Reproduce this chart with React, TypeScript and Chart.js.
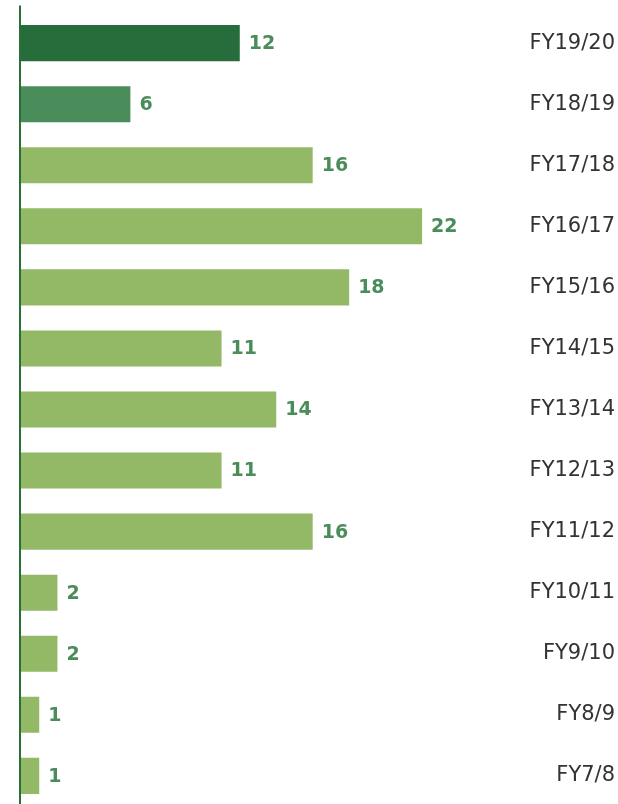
import React, { useEffect, useRef } from "react";
import { Chart, registerables } from "chart.js";

Chart.register(...registerables);

const categories = ["FY19/20", "FY18/19", "FY17/18", "FY16/17", "FY15/16", "FY14/15", "FY13/14", "FY12/13", "FY11/12", "FY10/11", "FY9/10", "FY8/9", "FY7/8"];
const values = [12, 6, 16, 22, 18, 11, 14, 11, 16, 2, 2, 1, 1];
const barColors = ["#276D3B", "#4A8C5A", "#93B866", "#93B866", "#93B866", "#93B866", "#93B866", "#93B866", "#93B866", "#93B866", "#93B866", "#93B866", "#93B866"];

const FONT = "'DejaVu Sans', sans-serif";

const valueLabels = {
  id: "valueLabels",
  afterDatasetsDraw(chart: any) {
    const ctx = chart.ctx;
    const meta = chart.getDatasetMeta(0);
    ctx.save();
    ctx.font = `bold 19px ${FONT}`;
    ctx.fillStyle = "#4A8C5A";
    ctx.textAlign = "left";
    ctx.textBaseline = "middle";
    meta.data.forEach((bar: any, i: number) => {
      ctx.fillText(String(values[i]), bar.x + 9, bar.y + 1);
    });
    ctx.restore();
  },
};

const axisLine = {
  id: "axisLine",
  afterDatasetsDraw(chart: any) {
    const ctx = chart.ctx;
    const x = chart.scales.x.getPixelForValue(0) - 1;
    ctx.save();
    ctx.strokeStyle = "#2A6E3A";
    ctx.lineWidth = 2;
    ctx.beginPath();
    ctx.moveTo(x, chart.chartArea.top - 7);
    ctx.lineTo(x, chart.chartArea.bottom);
    ctx.stroke();
    ctx.restore();
  },
};

export default function App() {
  const ref = useRef<HTMLCanvasElement>(null);
  useEffect(() => {
    const chart = new Chart(ref.current!, {
      type: "bar",
      data: {
        labels: categories,
        datasets: [
          {
            data: values,
            backgroundColor: barColors,
            borderWidth: 0,
            barPercentage: 0.59,
            categoryPercentage: 1,
            yAxisID: "y",
          },
        ],
      },
      options: {
        indexAxis: "y",
        animation: false,
        responsive: false,
        layout: { padding: { top: 12, left: 21, right: 3, bottom: 0 } },
        plugins: { legend: { display: false }, tooltip: { enabled: false } },
        scales: {
          x: { display: false, min: 0, max: 26 },
          y: {
            position: "right",
            grid: { display: false },
            border: { display: false },
            ticks: {
              color: "#333333",
              font: { family: FONT, size: 21 },
              crossAlign: "far",
            },
            afterFit(scale: any) {
              scale.width = 120;
            },
          },
        },
      } as any,
      plugins: [valueLabels, axisLine],
    });
    return () => chart.destroy();
  }, []);
  return (
    <div style={{ position: "fixed", left: 0, top: 0, width: 618, height: 804, background: "#fff", overflow: "hidden" }}>
      <canvas ref={ref} width={618} height={825} style={{ display: "block", width: 618, height: 825, marginTop: -3 }} />
    </div>
  );
}
